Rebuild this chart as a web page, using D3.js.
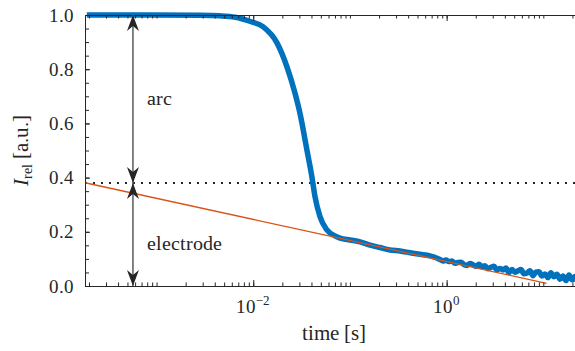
<!DOCTYPE html>
<html>
<head>
<meta charset="utf-8">
<script src="https://cdn.jsdelivr.net/npm/d3@7"></script>
<style>
  @font-face { font-family: "ChartSerif"; src: local("Liberation Serif"), local("LiberationSerif-Regular"), local("LiberationSerif"); font-style: normal; }
  @font-face { font-family: "ChartSerif"; src: local("Liberation Serif Italic"), local("LiberationSerif-Italic"); font-style: italic; }
  body { margin: 0; background: #fff; }
</style>
</head>
<body>
<div id="chart"></div>
<script>
// measured relative intensity (blue trace), time in seconds
const blueTime = [1.9e-4, 8.5e-4, 2.8e-3, 4.5e-3, 6.5e-3, 9.2e-3, 0.0126, 0.0176, 0.0223, 0.027,
  0.0304, 0.0359, 0.0404, 0.0435, 0.049, 0.0578, 0.07, 0.0792, 0.1005, 0.1276, 0.1618, 0.204,
  0.259, 0.329, 0.417, 0.53, 0.671,
  0.852, 0.915, 0.983, 1.056, 1.134, 1.218, 1.309, 1.406, 1.51, 1.622, 1.742, 1.871, 2.009, 2.158,
  2.318, 2.489, 2.674, 2.872, 3.084, 3.313, 3.558, 3.821, 4.104, 4.409, 4.735, 5.086, 5.462, 5.867,
  6.301, 6.768, 7.268, 7.808, 8.386, 9.006, 9.672, 10.39, 11.16, 11.98, 12.87, 13.82, 14.85, 15.95,
  17.13, 18.4, 19.76, 21.22, 22.79, 24.48, 26.3];
const blueRel = [1.0, 1.0, 0.999, 0.997, 0.992, 0.977, 0.957, 0.897, 0.809, 0.712,
  0.638, 0.502, 0.403, 0.33, 0.256, 0.207, 0.185, 0.177, 0.17, 0.163, 0.151, 0.142,
  0.133, 0.129, 0.123, 0.117, 0.111,
  0.098, 0.092, 0.096, 0.09, 0.092, 0.084, 0.087, 0.088, 0.079, 0.076, 0.083, 0.079, 0.072, 0.08,
  0.071, 0.075, 0.064, 0.069, 0.073, 0.059, 0.065, 0.059, 0.066, 0.05, 0.061, 0.051, 0.056, 0.061,
  0.045, 0.048, 0.056, 0.038, 0.051, 0.053, 0.037, 0.044, 0.031, 0.049, 0.034, 0.043, 0.025, 0.037,
  0.02, 0.041, 0.023, 0.035, 0.016, 0.029, 0.036];

// linear fit (electrode part), red line
const fitTime = [1.82e-4, 10.8];
const fitRel = [0.381, 0.010];

// separation level (dotted)
const splitRel = 0.38;

// annotation arrows
const arrowTime = 5.7e-4;
const arrowFrom = [1.0, 0.38];
const arrowTo = [0.38, 0.0];
const arrowLabels = ["arc", "electrode"];
const labelRel = [0.668, 0.133];

// ticks
const yTicks = [0, 0.2, 0.4, 0.6, 0.8, 1.0];
const yMinorTicks = d3.range(0, 1.0001, 0.05);
const xTickExps = [-2, 0];

const width = 575, height = 351;
const margin = { top: 15, right: -7, bottom: 65, left: 85 };
const axisColor = "#262626";
const serifCss = "font-family: ChartSerif, 'Liberation Serif', serif !important;";

const svg = d3.select("#chart").append("svg")
  .attr("width", width)
  .attr("height", height);

const x = d3.scaleLog()
  .domain([Math.pow(10, -3.74), Math.pow(10, 1.40)])
  .range([margin.left, width - margin.right]);

const y = d3.scaleLinear()
  .domain([0, 1])
  .range([height - margin.bottom, margin.top]);

// minor x ticks: 1..9 x 10^k inside domain
const xMinorTicks = [];
for (let k = -4; k <= 1; k++) {
  for (let m = 1; m <= 9; m++) {
    const v = m * Math.pow(10, k);
    if (v >= x.domain()[0] && v <= x.domain()[1]) xMinorTicks.push(v);
  }
}
const xMajor = xTickExps.map((e) => Math.pow(10, e));

// dotted split line
svg.append("line")
  .attr("x1", x.range()[0])
  .attr("x2", x.range()[1])
  .attr("y1", y(splitRel))
  .attr("y2", y(splitRel))
  .attr("stroke", axisColor)
  .attr("stroke-width", 2)
  .attr("stroke-dasharray", "2,6");

// blue measured curve
const blueData = blueTime.map((t, i) => [t, blueRel[i]]);
svg.append("path")
  .datum(blueData)
  .attr("fill", "none")
  .attr("stroke", "#0072BD")
  .attr("stroke-width", 5.5)
  .attr("stroke-linejoin", "round")
  .attr("d", d3.line()
    .x((d) => x(d[0]))
    .y((d) => y(d[1]))
    .curve(d3.curveMonotoneX));

// red fit line
svg.append("path")
  .datum(fitTime.map((t, i) => [t, fitRel[i]]))
  .attr("fill", "none")
  .attr("stroke", "#D95319")
  .attr("stroke-width", 1.3)
  .attr("d", d3.line().x((d) => x(d[0])).y((d) => y(d[1])));

// axes (ticks inward, like matlab)
const yAxis = svg.append("g")
  .attr("transform", `translate(${margin.left},0)`)
  .call(d3.axisLeft(y).tickValues(yTicks).tickFormat(d3.format(".1f"))
    .tickSizeInner(-5).tickSizeOuter(0).tickPadding(11));

svg.append("g")
  .attr("transform", `translate(${margin.left},0)`)
  .call(d3.axisLeft(y).tickValues(yMinorTicks).tickFormat("")
    .tickSizeInner(-4).tickSizeOuter(0));

svg.append("g")
  .attr("transform", `translate(0,${y(0)})`)
  .call(d3.axisBottom(x).tickValues(xMajor).tickFormat("")
    .tickSizeInner(-6).tickSizeOuter(0));

svg.append("g")
  .attr("transform", `translate(0,${y(0)})`)
  .call(d3.axisBottom(x).tickValues(xMinorTicks).tickFormat("")
    .tickSizeInner(-3.5).tickSizeOuter(0));

svg.append("g")
  .attr("transform", `translate(0,${y(1)})`)
  .call(d3.axisTop(x).tickValues(xMajor).tickFormat("")
    .tickSizeInner(-6).tickSizeOuter(0));

svg.append("g")
  .attr("transform", `translate(0,${y(1)})`)
  .call(d3.axisTop(x).tickValues(xMinorTicks).tickFormat("")
    .tickSizeInner(-3.5).tickSizeOuter(0));

svg.selectAll("g").attr("font-family", null);
svg.selectAll(".domain, .tick line").attr("stroke", axisColor).attr("stroke-width", 1);
yAxis.selectAll("text")
  .attr("fill", axisColor)
  .attr("font-size", 19);

// x tick labels 10^k
const xLabels = svg.append("g").selectAll("text")
  .data(xTickExps)
  .enter()
  .append("text")
  .attr("x", (e) => x(Math.pow(10, e)))
  .attr("y", 313)
  .attr("text-anchor", "middle")
  .attr("fill", axisColor)
  .attr("font-size", 19);
xLabels.append("tspan").text("10");
xLabels.append("tspan")
  .attr("dy", -8)
  .attr("font-size", 13)
  .text((e) => (e < 0 ? "\u2212" + Math.abs(e) : String(e)));

// axis titles
svg.append("text")
  .attr("x", (x.range()[0] + x.range()[1]) / 2)
  .attr("y", 340)
  .attr("text-anchor", "middle")
  .attr("fill", axisColor)
  .attr("font-size", 21)
  .text("time [s]");

const yTitle = svg.append("text")
  .attr("transform", `translate(28,${(y(0) + y(1)) / 2}) rotate(-90)`)
  .attr("text-anchor", "middle")
  .attr("fill", axisColor)
  .attr("font-size", 21);
yTitle.append("tspan").attr("font-style", "italic").text("I");
yTitle.append("tspan").attr("dy", 4).attr("font-size", 14).text("rel");
yTitle.append("tspan").attr("dy", -4).text(" [a.u.]");

// arrows with filled heads
const headPath = "M0,0 L-6,16 L0,11 L6,16 Z";
arrowFrom.forEach((from, i) => {
  const ax = x(arrowTime);
  const y1 = y(from), y2 = y(arrowTo[i]);
  svg.append("line")
    .attr("x1", ax).attr("x2", ax)
    .attr("y1", y1).attr("y2", y2)
    .attr("stroke", "#5a5a5a")
    .attr("stroke-width", 1.5);
  svg.append("path")
    .attr("d", headPath)
    .attr("transform", `translate(${ax},${y1})`)
    .attr("fill", axisColor);
  svg.append("path")
    .attr("d", headPath)
    .attr("transform", `translate(${ax},${y2}) rotate(180)`)
    .attr("fill", axisColor);
  svg.append("text")
    .attr("x", ax + 14)
    .attr("y", y(labelRel[i]))
    .attr("fill", axisColor)
    .attr("font-size", 20)
    .text(arrowLabels[i]);
});

svg.selectAll("text").attr("style", serifCss);
</script>
</body>
</html>
